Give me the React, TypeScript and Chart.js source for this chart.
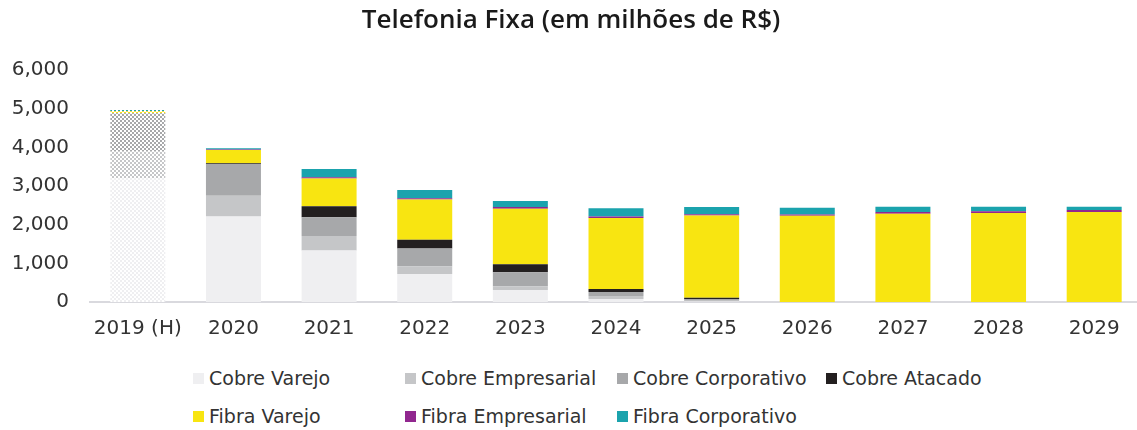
import React, { useEffect, useRef } from "react";
import { Chart, registerables } from "chart.js";

Chart.register(...registerables);

const categories = ["2019 (H)", "2020", "2021", "2022", "2023", "2024", "2025", "2026", "2027", "2028", "2029"];
const historicalCount = 1;

const cobreVarejo = [3200, 2210, 1330, 727, 312, 78, 15, 0, 0, 0, 0];
const cobreEmpresarial = [700, 540, 380, 200, 96, 78, 20, 0, 0, 0, 0];
const cobreCorporativo = [985, 825, 485, 457, 364, 104, 40, 0, 0, 0, 0];
const cobreAtacado = [10, 15, 285, 226, 208, 78, 35, 0, 0, 0, 0];
const fibraVarejo = [40, 345, 717, 1040, 1436, 1834, 2130, 2234, 2286, 2304, 2330];
const fibraEmpresarial = [10, 15, 35, 34, 44, 44, 34, 34, 44, 42, 52];
const fibraCorporativo = [25, 30, 208, 218, 156, 208, 182, 174, 138, 122, 86];

const yTicks = [0, 1000, 2000, 3000, 4000, 5000, 6000];

const seriesNames = [
  "Cobre Varejo",
  "Cobre Empresarial",
  "Cobre Corporativo",
  "Cobre Atacado",
  "Fibra Varejo",
  "Fibra Empresarial",
  "Fibra Corporativo",
];
const seriesValues = [cobreVarejo, cobreEmpresarial, cobreCorporativo, cobreAtacado, fibraVarejo, fibraEmpresarial, fibraCorporativo];
const seriesColors = ["#efeff1", "#c5c6c8", "#a7a8aa", "#231f20", "#f8e511", "#91278f", "#1ba3ad"];

const legendOrder = [0, 1, 2, 3, 4, 5, 6];

function makePattern(color: string): CanvasPattern | string {
  const c = document.createElement("canvas");
  c.width = 4;
  c.height = 4;
  const g = c.getContext("2d");
  if (!g) return color;
  g.fillStyle = "#ffffff";
  g.fillRect(0, 0, 4, 4);
  g.fillStyle = color;
  g.fillRect(0, 0, 2, 2);
  g.fillRect(2, 2, 2, 2);
  const p = g.createPattern(c, "repeat");
  return p || color;
}

export default function App() {
  const ref = useRef<HTMLCanvasElement>(null);

  useEffect(() => {
    if (!ref.current) return;
    const datasets = seriesNames.map((name, si) => {
      const pat = makePattern(seriesColors[si]);
      return {
        label: name,
        data: seriesValues[si],
        backgroundColor: categories.map((_, i) => (i < historicalCount ? pat : seriesColors[si])),
        borderWidth: 0,
        categoryPercentage: 1,
        barPercentage: 0.575,
      };
    });
    const chart = new Chart(ref.current, {
      type: "bar",
      data: { labels: categories, datasets: datasets as any },
      options: {
        animation: false,
        responsive: false,
        maintainAspectRatio: false,
        layout: { padding: { left: 0, right: 18, top: 0, bottom: 0 } },
        plugins: {
          legend: { display: false },
          tooltip: { enabled: false },
          title: {
            display: true,
            text: "Telefonia Fixa (em milhões de R$)",
            color: "#1a1a1a",
            font: { family: "'Open Sans', sans-serif", size: 26, weight: 600 as any },
            padding: { top: 5, bottom: 34 },
          },
        },
        scales: {
          x: {
            stacked: true,
            grid: { display: false, drawTicks: false },
            border: { display: true, color: "#d9d9de", width: 2 },
            ticks: {
              color: "#333333",
              font: { family: "'DejaVu Sans', sans-serif", size: 20 },
              padding: 15,
              maxRotation: 0,
              autoSkip: false,
            },
            afterFit: (s: any) => {
              s.height = 45;
            },
          },
          y: {
            stacked: true,
            min: 0,
            max: 6000,
            grid: { display: false, drawTicks: false },
            border: { display: false },
            afterBuildTicks: (s: any) => {
              s.ticks = yTicks.map((v) => ({ value: v }));
            },
            ticks: {
              color: "#333333",
              font: { family: "'DejaVu Sans', sans-serif", size: 20 },
              padding: 21,
              callback: (v: any) => Number(v).toLocaleString("en-US"),
            },
            afterFit: (s: any) => {
              s.width = 90;
            },
          },
        },
      },
    });
    return () => chart.destroy();
  }, []);

  return (
    <div style={{ position: "absolute", left: 0, top: 0, width: 1137, height: 430, overflow: "hidden", background: "#fff" }}>
      <canvas ref={ref} width={1160} height={347} style={{ display: "block", width: 1160, height: 347 }} />
      <div
        style={{
          position: "absolute",
          left: 193,
          top: 364,
          display: "grid",
          gridTemplateColumns: "212px 212px 209px auto",
          rowGap: 10,
          fontFamily: "'DejaVu Sans', sans-serif",
          fontSize: 19,
          color: "#333333",
        }}
      >
        {legendOrder.map((si) => (
          <div key={si} style={{ display: "flex", alignItems: "center", height: 28, whiteSpace: "nowrap" }}>
            <span style={{ display: "inline-block", width: 11, height: 11, background: seriesColors[si], marginRight: 5 }} />
            <span>{seriesNames[si]}</span>
          </div>
        ))}
      </div>
    </div>
  );
}
